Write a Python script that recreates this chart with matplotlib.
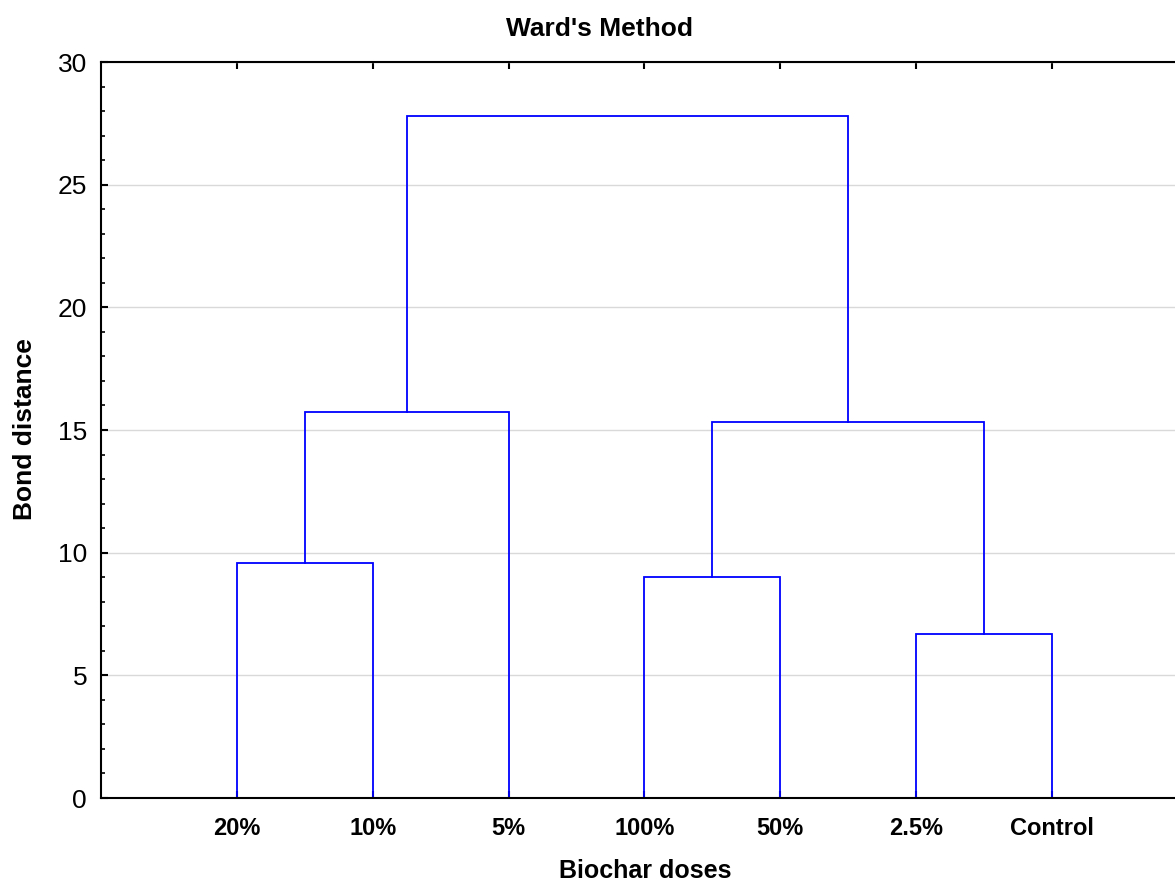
import matplotlib
matplotlib.use('Agg')
import matplotlib.pyplot as plt
from matplotlib.ticker import MultipleLocator

plt.rcParams['font.family'] = ['Liberation Sans', 'DejaVu Sans']

# leaves in dendrogram order
labels = ['20%', '10%', '5%', '100%', '50%', '2.5%', 'Control']

# merges: (left node, right node, linkage distance); new nodes numbered from 7
merge_left = [0, 3, 5, 7, 8, 10]
merge_right = [1, 4, 6, 2, 9, 11]
merge_height = [9.58, 9.01, 6.67, 15.75, 15.31, 27.80]

y_ticks = [0, 5, 10, 15, 20, 25, 30]

fig = plt.figure(figsize=(11.75, 8.86), dpi=100)
ax = fig.add_axes([101 / 1175, 88 / 886, 1 - 101 / 1175, 736 / 886])

node_x = [i + 1 for i in range(len(labels))]
node_y = [0.0] * len(labels)

for l, r, h in zip(merge_left, merge_right, merge_height):
    xl, xr = node_x[l], node_x[r]
    ax.plot([xl, xl, xr, xr], [node_y[l], h, h, node_y[r]],
            color='#0000ff', lw=1.3, solid_joinstyle='miter', zorder=2)
    node_x.append((xl + xr) / 2)
    node_y.append(h)

ax.set_xlim(0, 7.905)
ax.set_ylim(0, 30)
ax.set_xticks(range(1, len(labels) + 1))
ax.set_xticklabels(labels, fontsize=17, fontweight='bold')
ax.set_yticks(y_ticks)
ax.set_yticklabels([str(v) for v in y_ticks], fontsize=19)
ax.yaxis.set_minor_locator(MultipleLocator(1))

ax.tick_params(axis='x', direction='in', top=True, bottom=True,
               length=5, width=1.5, pad=14)
ax.tick_params(axis='y', which='major', direction='in', length=5,
               width=1.5, pad=10)
ax.tick_params(axis='y', which='minor', direction='in', length=3, width=1.2)

for s in ['left', 'top', 'bottom']:
    ax.spines[s].set_linewidth(1.5)
ax.spines['right'].set_visible(False)

ax.grid(axis='y', which='major', color='#d9d9d9', lw=1, zorder=0)
ax.set_axisbelow(True)

fig.text(600 / 1175, 1 - 36 / 886, "Ward's Method", ha='center',
         va='baseline', fontsize=19, fontweight='bold')
fig.text(645 / 1175, 1 - 878 / 886, 'Biochar doses', ha='center',
         va='baseline', fontsize=18, fontweight='bold')
fig.text(25 / 1175, 1 - 429 / 886, 'Bond distance', ha='center',
         va='center', rotation=90, fontsize=19, fontweight='bold')

plt.savefig('out.png', dpi=100)
